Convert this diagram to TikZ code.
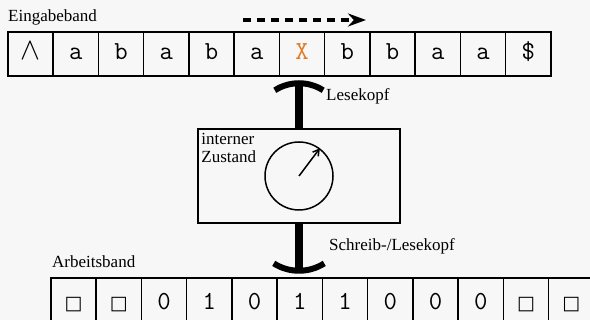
\documentclass[tikz,border=0pt]{standalone}
\usepackage{graphicx}
\usepackage{fontspec}
\setmainfont{Liberation Serif}
\newfontfamily\symfont{DejaVu Sans}
\usetikzlibrary{arrows.meta}
\definecolor{hintergrund}{HTML}{F7F7F7}
\definecolor{orangeX}{HTML}{E07B28}

\begin{document}
\begin{tikzpicture}[x=1pt,y=1pt,>=Stealth,
    zelle/.style={draw,line width=1.5pt,minimum width=45.25pt,minimum height=44pt,inner sep=0pt,
      font=\ttfamily\fontsize{26}{26}\selectfont},
    beschr/.style={font=\fontsize{17}{18}\selectfont,inner sep=0pt},
    kopf/.style={line width=6pt}]
  \useasboundingbox[fill=hintergrund] (0,0) rectangle (590,320);
  % Eingabeband
  \foreach \z [count=\i from 0] in {{\fontsize{24.88}{24.88}\selectfont\scalebox{1.2}[1.25]{$\wedge$}},a,b,a,b,a,{\color{orangeX}X},b,b,a,a,\$}
    \node[zelle,text height=16pt,text depth=4pt] (ein\i) at (30.6+45.25*\i,266) {\z};
  \node[beschr,anchor=base west] (einlabel) at (8,298) {Eingabeband};
  \coordinate (lauf0) at (243,300);
  \coordinate (lauf1) at (366,300);
  \draw[-{Stealth[length=18pt,width=13pt]},line width=4pt,dash pattern=on 8pt off 6pt] (lauf0) -- (lauf1);
  % Steuerung
  \node[draw,line width=1.5pt,minimum width=202pt,minimum height=94pt] (zustand) at (299,144) {};
  \node[beschr,anchor=north west,align=left] (zlabel) at ([shift={(4,-5)}]zustand.north west) {interner\\Zustand};
  \node[draw,circle,line width=1.5pt,minimum size=68pt] (uhr) at (zustand.center) {};
  \draw[-{Straight Barb[length=6pt,width=7pt]},line width=1.5pt] (uhr.center) -- (uhr.53);
  % Lesekopf oben
  \coordinate (lk) at ([yshift=45pt]zustand.north);
  \draw[line width=8pt] (zustand.north) -- (lk);
  \draw[kopf] ([shift={(122.5:45)}]zustand.north) arc[start angle=122.5,end angle=57.5,radius=45];
  \node[beschr,anchor=base west] (lklabel) at (326,219) {Lesekopf};
  % Schreib-/Lesekopf unten
  \coordinate (slk) at ([yshift=-47pt]zustand.south);
  \draw[line width=8pt] (zustand.south) -- (slk);
  \draw[kopf] ([shift={(237.5:47)}]zustand.south) arc[start angle=237.5,end angle=302.5,radius=47];
  \node[beschr,anchor=base west] (slklabel) at (329,69) {Schreib-/Lesekopf};
  % Arbeitsband
  \node[beschr,anchor=base west] (arblabel) at (52,52) {Arbeitsband};
  \foreach \z [count=\i from 0] in {{\symfont\fontsize{19}{19}\selectfont □},{\symfont\fontsize{19}{19}\selectfont □},0,1,0,1,1,0,0,0,{\symfont\fontsize{19}{19}\selectfont □},{\symfont\fontsize{19}{19}\selectfont □}}
    \node[zelle,text height=22pt,text depth=2pt] (arb\i) at (73.6+45.25*\i,20) {\z};
\end{tikzpicture}
\end{document}
